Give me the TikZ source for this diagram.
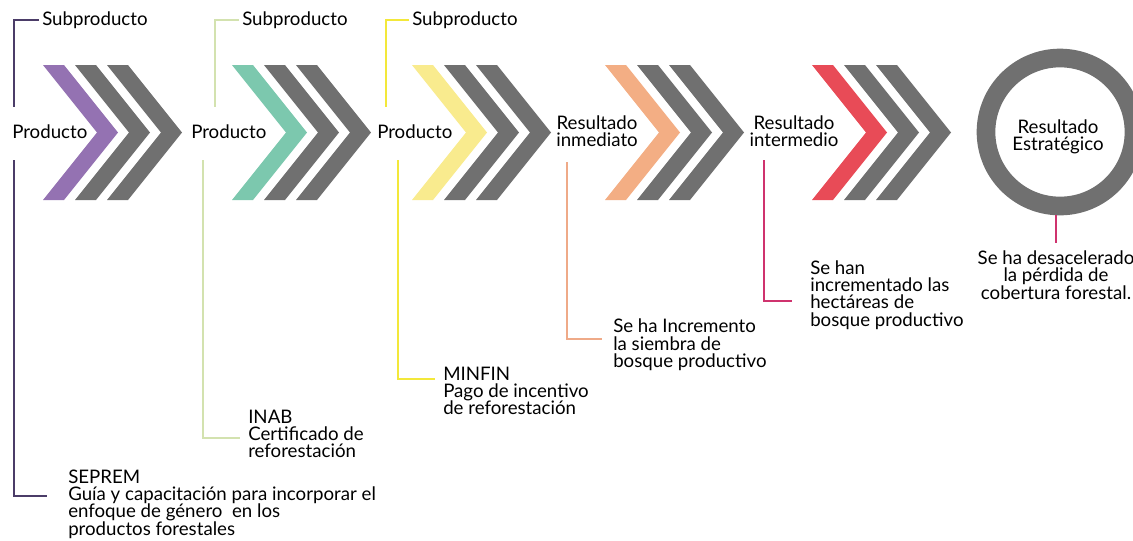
\documentclass[tikz,border=0pt]{standalone}
\usepackage{fontspec}
\setmainfont{Lato}
\definecolor{cpurple}{HTML}{9472B2}
\definecolor{cteal}{HTML}{7CC8AE}
\definecolor{cyellow}{HTML}{F9EB8E}
\definecolor{corange}{HTML}{F3AE84}
\definecolor{cred}{HTML}{E84B57}
\definecolor{cgray}{HTML}{707070}
\definecolor{lpurple}{HTML}{4B3C68}
\definecolor{lgreen}{HTML}{D3E2AF}
\definecolor{lyellow}{HTML}{F3E83A}
\definecolor{lorange}{HTML}{EFAA88}
\definecolor{lpink}{HTML}{CF336E}
\newcommand\mychev[2]{\fill[#2] (#1,65) -- ++(21,0) -- ++(54,67.5) -- ++(-54,67.5) -- ++(-21,0) -- ++(54,-67.5) -- cycle;}
\newcommand\chevset[2]{\mychev{#1}{#2}\mychev{#1+32}{cgray}\mychev{#1+64}{cgray}}
\begin{document}
\begin{tikzpicture}[x=0.75pt,y=-0.75pt,
  txt/.style={inner sep=0pt,font=\fontsize{14}{13}\selectfont,text=black},
  lbl/.style={txt,anchor=west,align=left},
  ctr/.style={txt,align=center},
  brk/.style={line width=1.3pt}]
\useasboundingbox (0,0) rectangle (1133,540);
\fill[white] (0,0) rectangle (1133,540);
% chevrons
\chevset{43}{cpurple}
\chevset{232}{cteal}
\chevset{412}{cyellow}
\chevset{605}{corange}
\chevset{812}{cred}
% circle
\draw[cgray,line width=14pt] (1060,132) circle (74);
% labels
\node[lbl] (s1) at (42,20) {Subproducto};
\node[lbl] (s2) at (242,20) {Subproducto};
\node[lbl] (s3) at (412,20) {Subproducto};
\node[lbl] (p1) at (12,132) {Producto};
\node[lbl] (p2) at (191,132) {Producto};
\node[lbl] (p3) at (377,132) {Producto};
\node[ctr] (ri) at (597,131) {Resultado\\inmediato};
\node[ctr] (rm) at (794,131) {Resultado\\intermedio};
\node[ctr] (re) at (1058,137) {Resultado\\Estratégico};
\node[lbl] (d1) at (68,504) {SEPREM\\Guía y capacitación para incorporar el\\enfoque de género\ \ en los\\productos forestales};
\node[lbl] (d2) at (248,434) {INAB\\Certificado de\\reforestación};
\node[lbl] (d3) at (443,391) {MINFIN\\Pago de incentivo\\de reforestación};
\node[lbl] (d4) at (613,345) {Se ha Incremento\\la siembra de\\bosque productivo};
\node[lbl] (d5) at (810,295) {Se han\\incrementado las\\hectáreas de\\bosque productivo};
\node[ctr] (d6) at (1056,275) {Se ha desacelerado\\la pérdida de\\cobertura forestal.};
% brackets
\draw[brk,lpurple] (s1.west) ++(-3,0) -- (14,20) -- (14,107);
\draw[brk,lpurple] (14,160) |- ([xshift=-16pt]d1.west |- 0,496);
\draw[brk,lgreen] (s2.west) ++(-3,0) -- (215,20) -- (215,107);
\draw[brk,lgreen] (203,160) |- (240,438);
\draw[brk,lyellow] (s3.west) ++(-3,0) -- (386,20) -- (386,107);
\draw[brk,lyellow] (398,160) |- (435,379);
\draw[brk,lorange] (567,162) |- (602,339);
\draw[brk,lpink] (764,160) |- (792,301);
\draw[brk,lpink] (1056,215) -- (1056,243);
\end{tikzpicture}
\end{document}
